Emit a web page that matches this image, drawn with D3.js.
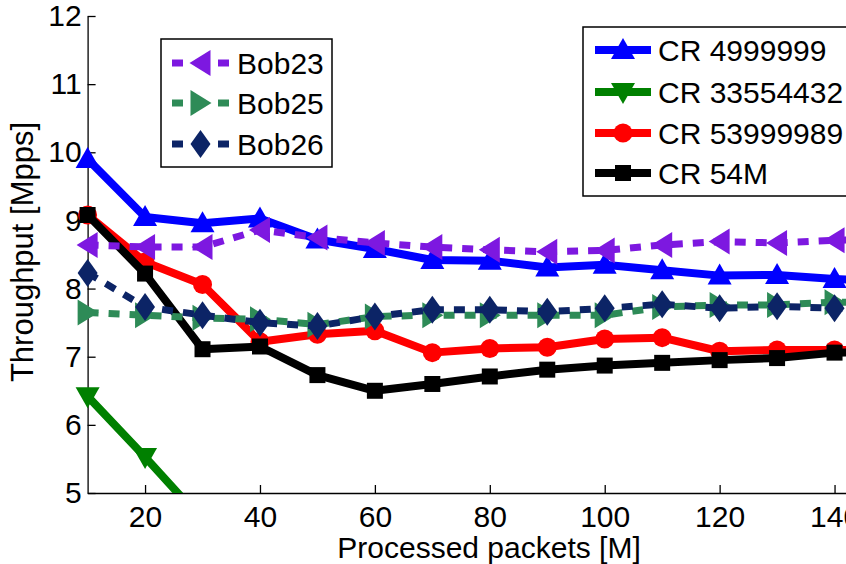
<!DOCTYPE html>
<html>
<head>
<meta charset="utf-8">
<script src="https://cdn.jsdelivr.net/npm/d3@7"></script>
<style>
  html, body { margin: 0; padding: 0; background: #fff; }
  svg { display: block; font-family: "Liberation Sans", Arial, Helvetica, sans-serif; }
</style>
</head>
<body>
<svg id="chart" width="846" height="564"></svg>
<script>
// Processed packets (millions) at which throughput was sampled
const packets = [10, 20, 30, 40, 50, 60, 70, 80, 90, 100, 110, 120, 130, 140, 150];

// Throughput in Mpps for each configuration
const cr4999999  = [9.90, 9.05, 8.96, 9.03, 8.72, 8.58, 8.42, 8.41, 8.31, 8.35, 8.27, 8.19, 8.20, 8.14, 8.10];
const cr33554432 = [6.42, 5.53, 4.60];
const cr53999989 = [9.08, 8.39, 8.06, 7.22, 7.33, 7.38, 7.06, 7.12, 7.14, 7.26, 7.28, 7.08, 7.10, 7.10, 7.10];
const cr54M      = [9.08, 8.22, 7.11, 7.15, 6.73, 6.50, 6.60, 6.71, 6.81, 6.87, 6.91, 6.95, 6.98, 7.06, 7.07];
const bob23      = [8.64, 8.61, 8.61, 8.86, 8.75, 8.67, 8.61, 8.57, 8.54, 8.56, 8.64, 8.69, 8.67, 8.71, 8.72];
const bob25      = [7.65, 7.61, 7.57, 7.55, 7.47, 7.59, 7.61, 7.61, 7.61, 7.61, 7.73, 7.76, 7.76, 7.80, 7.80];
const bob26      = [8.23, 7.73, 7.61, 7.50, 7.45, 7.59, 7.69, 7.69, 7.66, 7.71, 7.77, 7.71, 7.74, 7.71, 7.72];

const yTicks = [5, 6, 7, 8, 9, 10, 11, 12];
const xTicks = [20, 40, 60, 80, 100, 120, 140];

const crSeries = [
  { name: "CR 4999999",  values: cr4999999,  color: "#0000ff", marker: "up" },
  { name: "CR 33554432", values: cr33554432, color: "#008000", marker: "down" },
  { name: "CR 53999989", values: cr53999989, color: "#ff0000", marker: "circle" },
  { name: "CR 54M",      values: cr54M,      color: "#000000", marker: "square" }
];
const bobSeries = [
  { name: "Bob23", values: bob23, color: "#7d18e0", marker: "left" },
  { name: "Bob25", values: bob25, color: "#2e8b57", marker: "right" },
  { name: "Bob26", values: bob26, color: "#0c2466", marker: "diamond" }
];

const svg = d3.select("#chart");
const plotLeft = 87.6, plotBottom = 493, plotTop = 16, plotRight = 892;

const x = d3.scaleLinear().domain([10, 150]).range([plotLeft, plotRight]);
const y = d3.scaleLinear().domain([5, 12]).range([plotBottom, plotTop]);

svg.append("defs").append("clipPath").attr("id", "plotClip")
  .append("rect").attr("x", plotLeft).attr("y", plotTop)
  .attr("width", plotRight - plotLeft).attr("height", plotBottom - plotTop);

// marker shapes centred on (0,0)
function markerPath(type) {
  switch (type) {
    case "up":     return "M0,-12 L12,9 L-12,9 Z";
    case "down":   return "M0,12 L12,-9 L-12,-9 Z";
    case "left":   return "M-11,0 L10,-13 L10,13 Z";
    case "right":  return "M11,0 L-10,-13 L-10,13 Z";
    case "diamond":return "M0,-14 L10,0 L0,14 L-10,0 Z";
    case "square": return "M-8,-8 L8,-8 L8,8 L-8,8 Z";
    case "circle": return d3.arc()({innerRadius: 0, outerRadius: 9.5, startAngle: 0, endAngle: 2 * Math.PI});
  }
}

const line = d3.line().x(d => x(d.x)).y(d => y(d.y));

function drawSeries(s, dashed) {
  const pts = s.values.map((v, i) => ({ x: packets[i], y: v }));
  svg.append("path")
    .attr("d", line(pts))
    .attr("fill", "none")
    .attr("stroke", s.color)
    .attr("stroke-width", dashed ? 7 : 8)
    .attr("stroke-dasharray", dashed ? "11,10" : null)
    .attr("stroke-linejoin", "round")
    .attr("clip-path", "url(#plotClip)");
  svg.append("g").selectAll("path")
    .data(pts.filter(p => p.y >= 5 && p.y <= 12))
    .join("path")
    .attr("transform", d => `translate(${x(d.x)},${y(d.y)})`)
    .attr("d", markerPath(s.marker))
    .attr("fill", s.color);
}

// axes (ticks pointing inward)
const yAxis = svg.append("g").attr("transform", `translate(${plotLeft},0)`)
  .call(d3.axisLeft(y).tickValues(yTicks).tickFormat(d3.format("d")).tickSizeInner(-8).tickSizeOuter(0).tickPadding(6));
const xAxis = svg.append("g").attr("transform", `translate(0,${plotBottom})`)
  .call(d3.axisBottom(x).tickValues(xTicks).tickFormat(d3.format("d")).tickSizeInner(-8).tickSizeOuter(0).tickPadding(13));
[yAxis, xAxis].forEach(a => {
  a.select(".domain").attr("stroke", "#000").attr("stroke-width", 1.3);
  a.selectAll(".tick line").attr("stroke", "#000").attr("stroke-width", 1.3);
  a.selectAll(".tick text").attr("font-size", 30).attr("fill", "#000")
    .attr("font-family", "'Liberation Sans', Arial, sans-serif");
});

crSeries.forEach(s => drawSeries(s, false));
bobSeries.forEach(s => drawSeries(s, true));

// axis titles
svg.append("text").attr("x", 489).attr("y", 558)
  .attr("text-anchor", "middle").attr("font-size", 30).text("Processed packets [M]");
svg.append("text").attr("transform", "translate(33,252) rotate(-90)")
  .attr("text-anchor", "middle").attr("font-size", 31).text("Throughput [Mpps]");

// legends
function legend(series, bx, by, bw, bh, rowY, lineX0, lineX1, textX, dashed) {
  const g = svg.append("g");
  g.append("rect").attr("x", bx).attr("y", by).attr("width", bw).attr("height", bh)
    .attr("fill", "#fff").attr("stroke", "#000").attr("stroke-width", 1.5);
  series.forEach((s, i) => {
    const cy = rowY[i];
    const mx = (lineX0 + lineX1) / 2;
    if (dashed) {
      g.append("line").attr("x1", lineX0).attr("x2", lineX0 + 11).attr("y1", cy).attr("y2", cy)
        .attr("stroke", s.color).attr("stroke-width", 7);
      g.append("line").attr("x1", lineX1 - 11).attr("x2", lineX1).attr("y1", cy).attr("y2", cy)
        .attr("stroke", s.color).attr("stroke-width", 7);
    } else {
      g.append("line").attr("x1", lineX0).attr("x2", lineX1).attr("y1", cy).attr("y2", cy)
        .attr("stroke", s.color).attr("stroke-width", 8);
    }
    g.append("path").attr("transform", `translate(${mx},${cy})`)
      .attr("d", markerPath(s.marker)).attr("fill", s.color);
    g.append("text").attr("x", textX).attr("y", cy).attr("dy", "0.36em")
      .attr("font-size", 30).attr("fill", "#000").text(s.name);
  });
}
legend(bobSeries, 161, 39, 171, 128, [63, 103, 144], 172, 229, 237, true);
legend(crSeries, 583, 27, 300, 169, [50, 92, 133, 173], 595, 651, 658, false);
</script>
</body>
</html>
